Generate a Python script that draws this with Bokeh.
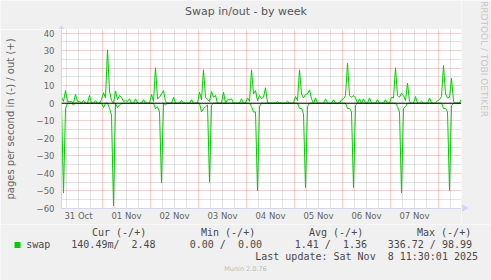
from datetime import datetime, timedelta
import math
import numpy as np
from bokeh.plotting import figure
from bokeh.layouts import column, row
from bokeh.models import (Range1d, FixedTicker, DatetimeTickFormatter, Label, Span, BoxAnnotation)
from bokeh.embed import file_html
from bokeh.resources import INLINE

# ---------------- data (hours relative to 2025-11-01 00:00, 1-hour samples at :30) -------------
base = datetime(2025, 11, 1)
first_hour = -20.5
last_hour = 179.5

out_hours = [-20.5, -19.5, -18.5, -17.5, -16.5, -15.5, -13.5, -12.5, -11.5, -9.5, -6.5, -3.5,
             -0.5, 0.5, 1.5, 2.5, 3.5, 4.5, 6.5, 7.5, 8.5, 9.5, 10.5, 11.5, 12.5, 13.5, 16.5, 20.5,
             24.5, 25.5, 26.5, 27.5, 28.5, 29.5, 30.5, 31.5, 35.5, 39.5, 44.5,
             48.5, 49.5, 50.5, 51.5, 52.5, 53.5, 54.5, 55.5, 56.5, 60.5, 62.5, 63.5, 64.5, 69.5,
             72.5, 73.5, 74.5, 75.5, 76.5, 77.5, 78.5, 79.5, 80.5, 81.5, 82.5, 87.5, 92.5,
             96.5, 97.5, 98.5, 99.5, 100.5, 101.5, 102.5, 103.5, 104.5, 106.5, 111.5, 115.5, 119.5,
             120.5, 121.5, 122.5, 123.5, 124.5, 125.5, 126.5, 128.5, 130.5, 133.5, 137.5, 141.5,
             144.5, 145.5, 146.5, 147.5, 148.5, 149.5, 150.5, 151.5, 152.5, 153.5, 156.5, 159.5,
             163.5, 167.5, 168.5, 169.5, 170.5, 171.5, 172.5, 173.5, 174.5, 175.5, 179.5]
out_values = [3.5, 1, 7.2, 1, 1, 1, 5, 1, 1, 1.5, 4.4, 1.5,
              2, 6, 3, 30.5, 7, 1.5, 7, 2, 4.4, 3.4, 1, 1.5, 1, 2.5, 2.5, 2,
              5, 1, 20.2, 2.5, 3.4, 5.3, 7.2, 1, 3.4, 1.5, 2,
              6.3, 2, 19, 3.4, 2, 1, 6.7, 3.4, 4.4, 6.3, 2, 2, 2.5, 2.5,
              3, 1, 19, 5.3, 7.2, 1.5, 4.4, 2.5, 3.4, 8.8, 0.5, 1, 1.1,
              3.8, 1.5, 19, 5.3, 3, 5, 5.3, 7.6, 2.5, 3, 2.5, 2, 2,
              2.5, 4.4, 22.9, 4.4, 3.4, 4.4, 3, 2.5, 2.5, 3, 2, 2,
              3.4, 3, 20.2, 4.4, 3.4, 5.7, 4.4, 1.5, 11.4, 1, 3.8, 1.1,
              3, 1.5, 2, 3.8, 21.5, 5.3, 3, 3.4, 14.3, 1, 2.48]

in_hours = [-20.5, -19.5, -18.5, -14.5, 0.5, 3.5, 4.5, 5.5, 7.5, 8.5,
            26.5, 27.5, 28.5, 29.5, 31.5, 49.5, 50.5, 51.5, 52.5, 53.5, 54.5,
            74.5, 75.5, 76.5, 77.5, 78.5, 98.5, 99.5, 100.5, 101.5, 102.5,
            122.5, 123.5, 124.5, 125.5, 126.5, 147.5, 148.5, 149.5, 150.5, 151.5,
            170.5, 171.5, 172.5, 173.5, 174.5, 179.5]
in_values = [2, 51.2, 3, 1, 2.5, 3, 6.8, 58.5, 2.5, 1,
             3.2, 2, 5, 45.5, 1, 5, 3, 2, 1, 45, 1,
             2, 5, 5, 50, 2, 3, 3, 6, 48.3, 2,
             3, 3, 5, 48.3, 1, 2, 5, 51.2, 3, 2,
             3, 3, 5, 49.7, 1.3, 0.14]

label_days = [datetime(2025, 10, 31), datetime(2025, 11, 1), datetime(2025, 11, 2), datetime(2025, 11, 3),
              datetime(2025, 11, 4), datetime(2025, 11, 5), datetime(2025, 11, 6), datetime(2025, 11, 7)]
midnights = [datetime(2025, 11, d) for d in range(1, 9)]
y_major = [-60, -50, -40, -30, -20, -10, 0, 10, 20, 30, 40]
y_minor = [-55, -45, -35, -25, -15, -5, 5, 15, 25, 35]

legend_head = ["Cur (-/+)", "Min (-/+)", "Avg (-/+)", "Max (-/+)"]
legend_vals = ["140.49m/  2.48", "0.00 /  0.00", "1.41 /  1.36", "336.72 / 98.99"]
series_name = "swap"
last_update = "Last update: Sat Nov  8 11:30:01 2025"
title_text = "Swap in/out - by week"
ylabel_text = "pages per second in (-) / out (+)"
watermark = "RRDTOOL / TOBI OETIKER"
version_text = "Munin 2.0.76"

# ---------------- build series ----------------
grid_hours = np.arange(first_hour, last_hour + 0.5, 1.0)
out_series = np.zeros(len(grid_hours))
in_series = np.zeros(len(grid_hours))
for h, v in zip(out_hours, out_values):
    out_series[int(round(h - first_hour))] = v
for h, v in zip(in_hours, in_values):
    in_series[int(round(h - first_hour))] = v
xs = [base + timedelta(hours=float(h)) for h in grid_hours]

def ms(dt):
    return (dt - datetime(1970, 1, 1)).total_seconds() * 1000.0

noon_ticks = [ms(d + timedelta(hours=12)) for d in label_days]
mid_ticks = [ms(d) for d in midnights]
start_dt = base + timedelta(hours=first_hour)
end_dt = base + timedelta(hours=last_hour)
six_ticks = []
t = datetime(2025, 10, 31, 6)
while t < end_dt:
    if t.hour != 0:
        six_ticks.append(ms(t))
    t += timedelta(hours=6)

FONT = "#666666"
BG = "#F0F0F0"
AXIS = "#CFD6F8"
W, H = 491, 280
TITLE_H = 29      # canvas y of plot-area top
PLOT_B = 208      # canvas y of plot-area bottom
PLOT_L, PLOT_R = 61, 461
TOP_H = 224       # bottom of the chart block / top of the legend block


def strip(width, height, x0, x1, y0, y1):
    """Blank figure whose data coordinates are window pixels (y downward)."""
    f = figure(width=width, height=height, x_range=Range1d(x0, x1), y_range=Range1d(y1, y0),
               output_backend="svg", toolbar_location=None, title=None,
               x_axis_location=None, y_axis_location=None, min_border=0)
    f.grid.visible = False
    f.outline_line_color = None
    f.background_fill_color = BG
    f.border_fill_color = BG
    f.frame_align = False
    return f


def nb(s):
    return s.replace(" ", "\u00a0") if "  " in s else s


def lab(f, text, X, Y, align="left", baseline="middle", font="DejaVu Sans", size="10px",
        color=FONT, angle=0.0):
    f.add_layout(Label(x=X, y=Y, text=nb(text), text_align=align, text_baseline=baseline,
                       text_font=font, text_font_size=size, text_color=color, angle=angle))


# ---------------- title strip ----------------
ts = strip(PLOT_R, TITLE_H, 0, PLOT_R, 0, TITLE_H)
lab(ts, title_text, 245.5, 11.3, align="center", size="11px", color="#555555")
ts.scatter(x=[PLOT_L], y=[TITLE_H - 0.5], marker="triangle", size=6, fill_color=AXIS,
           line_color=AXIS)

# ---------------- main chart ----------------
p = figure(width=PLOT_R, height=TOP_H - TITLE_H, x_axis_type="datetime",
           x_range=Range1d(start_dt, end_dt), y_range=Range1d(-60, 42),
           output_backend="svg", toolbar_location=None, title=None,
           min_border_left=PLOT_L, min_border_right=0, min_border_top=0,
           min_border_bottom=TOP_H - PLOT_B)
p.frame_align = False
p.border_fill_color = BG
p.background_fill_color = "#FFFFFF"
p.outline_line_color = None

fmt = "%d %b"
p.xaxis.ticker = FixedTicker(ticks=noon_ticks)
p.xaxis.formatter = DatetimeTickFormatter(microseconds=fmt, milliseconds=fmt, seconds=fmt, minsec=fmt,
                                          minutes=fmt, hourmin=fmt, hours=fmt, days=fmt, months=fmt, years=fmt)
yt = FixedTicker(ticks=y_major, minor_ticks=y_minor)
p.yaxis.ticker = yt
p.ygrid.ticker = yt
p.xgrid.ticker = FixedTicker(ticks=mid_ticks, minor_ticks=six_ticks)

for ax in (p.xaxis[0], p.yaxis[0]):
    ax.axis_line_color = AXIS
    ax.major_tick_line_color = None
    ax.minor_tick_line_color = None
    ax.major_tick_out = 0
    ax.major_tick_in = 0
    ax.minor_tick_out = 0
    ax.major_label_text_font = "DejaVu Sans"
    ax.major_label_text_font_size = "8.5px"
    ax.major_label_text_color = FONT
p.xaxis.major_label_standoff = 2
p.yaxis.major_label_standoff = 7
p.yaxis.axis_label = ylabel_text
p.yaxis.axis_label_text_font = "DejaVu Sans"
p.yaxis.axis_label_text_font_size = "10px"
p.yaxis.axis_label_text_font_style = "normal"
p.yaxis.axis_label_text_color = FONT
p.yaxis.axis_label_standoff = 18

for g in (p.xgrid[0], p.ygrid[0]):
    g.grid_line_color = "#FF0000"
    g.grid_line_alpha = 0.4
    g.grid_line_dash = "1 1"
    g.minor_grid_line_color = "#A0A0A0"
    g.minor_grid_line_alpha = 0.6
    g.minor_grid_line_dash = "1 1"

p.line(xs, out_series, line_color="#00CC00", line_width=1)
p.line(xs, -in_series, line_color="#00CC00", line_width=1)
p.add_layout(Span(location=0, dimension="width", line_color="#000000", line_width=1))

# ---------------- watermark strip (right) ----------------
ws = strip(W - PLOT_R, TOP_H, PLOT_R, W, 0, TOP_H)
lab(ws, watermark, 483.5, 58.5, align="center", size="9px", color="#C8C8C8",
    angle=-math.pi / 2)
ws.scatter(x=[PLOT_R + 3], y=[PLOT_B - 0.5], marker="triangle", angle=-math.pi / 2, size=6,
           fill_color=AXIS, line_color=AXIS)

# ---------------- legend strip ----------------
lg = strip(W, H - TOP_H, 0, W, TOP_H, H)
MONO = "DejaVu Sans Mono"
LEG = "#4A4A4A"
for txt, X in zip(legend_head, [91.5, 200.5, 308.5, 416.5]):
    lab(lg, txt, X, 232.4, font=MONO, color=LEG)
lab(lg, series_name, 25.8, 244.3, font=MONO, color=LEG)
for txt, X in zip(legend_vals, [155.1, 261.5, 366.5, 471.5]):
    lab(lg, txt, X, 244.3, align="right", font=MONO, color=LEG)
lab(lg, last_update, 477.5, 256.3, align="right", font=MONO, color=LEG)
lab(lg, version_text, 245, 268.5, align="center", size="6.5px", color="#BBBBBB")
lg.add_layout(BoxAnnotation(left=14, right=20, top=241.5, bottom=247.5,
                            fill_color="#00CC00", fill_alpha=1.0, line_color=None))

layout = column(row(column(ts, p, spacing=0), ws, spacing=0), lg, spacing=0)
open("out.html", "w").write(file_html(layout, INLINE))
